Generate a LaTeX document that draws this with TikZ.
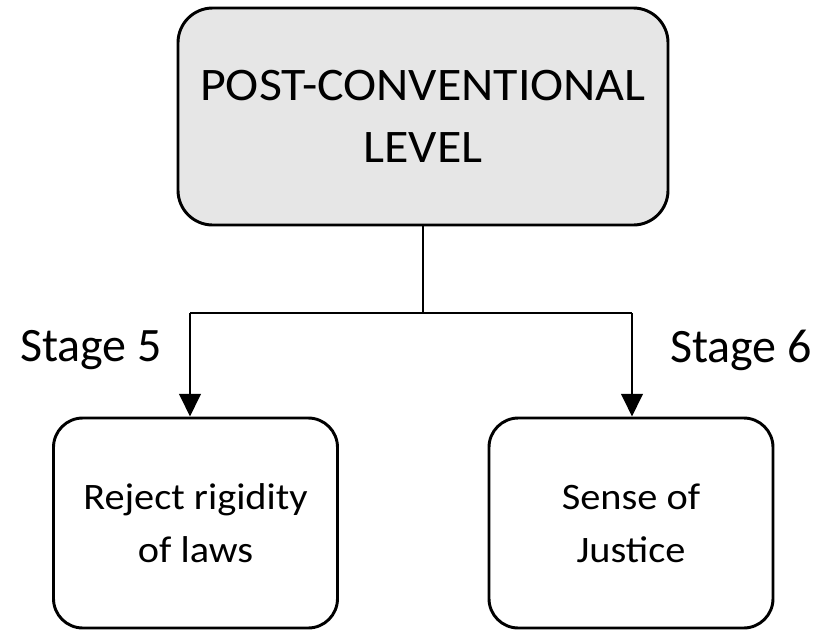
\documentclass[tikz,border=0pt]{standalone}
\usepackage{fontspec}
\setmainfont{Carlito}
\newfontfamily\topfont[FakeStretch=1.07]{Carlito}
\newfontfamily\bodyfont[FakeStretch=1.08]{Carlito}
\usetikzlibrary{arrows.meta}
\definecolor{boxgrey}{RGB}{230,230,230}
\tikzset{
  px/.style={x=0.75pt,y=-0.75pt},
  bigbox/.style={draw,line width=2.2pt,rounded corners=26pt,fill=boxgrey,minimum width=367.5pt,minimum height=162.75pt,align=center,font=\topfont\fontsize{35}{46}\selectfont},
  smallbox/.style={draw,line width=2.2pt,rounded corners=22pt,minimum width=213pt,minimum height=157.5pt,align=center,font=\bodyfont\fontsize{28}{40}\selectfont},
  conn/.style={line width=2.2pt},
  arr/.style={line width=2.2pt,-{Triangle[width=16pt,length=17pt]}},
  stagelbl/.style={font=\fontsize{36}{40}\selectfont}
}
\begin{document}
\begin{tikzpicture}[px]
\useasboundingbox (0,0) rectangle (821,632);
\node[bigbox] (top) at (423,116.5) {POST-CONVENTIONAL\\LEVEL};
\node[smallbox] (left) at (195.5,523) {Reject rigidity\\of laws};
\node[smallbox] (right) at (631,523) {Sense of\\Justice};
\coordinate (mid) at (423,313);
\coordinate (lc) at (190,313);
\coordinate (rc) at (632,313);
\draw[conn] (top.south) -- (mid);
\draw[conn] (lc) -- (rc);
\draw[arr] (lc) -- (lc |- left.north);
\draw[arr] (rc) -- (rc |- right.north);
\node[stagelbl] (s5) at (91,350) {Stage 5};
\node[stagelbl] (s6) at (741,350) {Stage 6};
\end{tikzpicture}
\end{document}
